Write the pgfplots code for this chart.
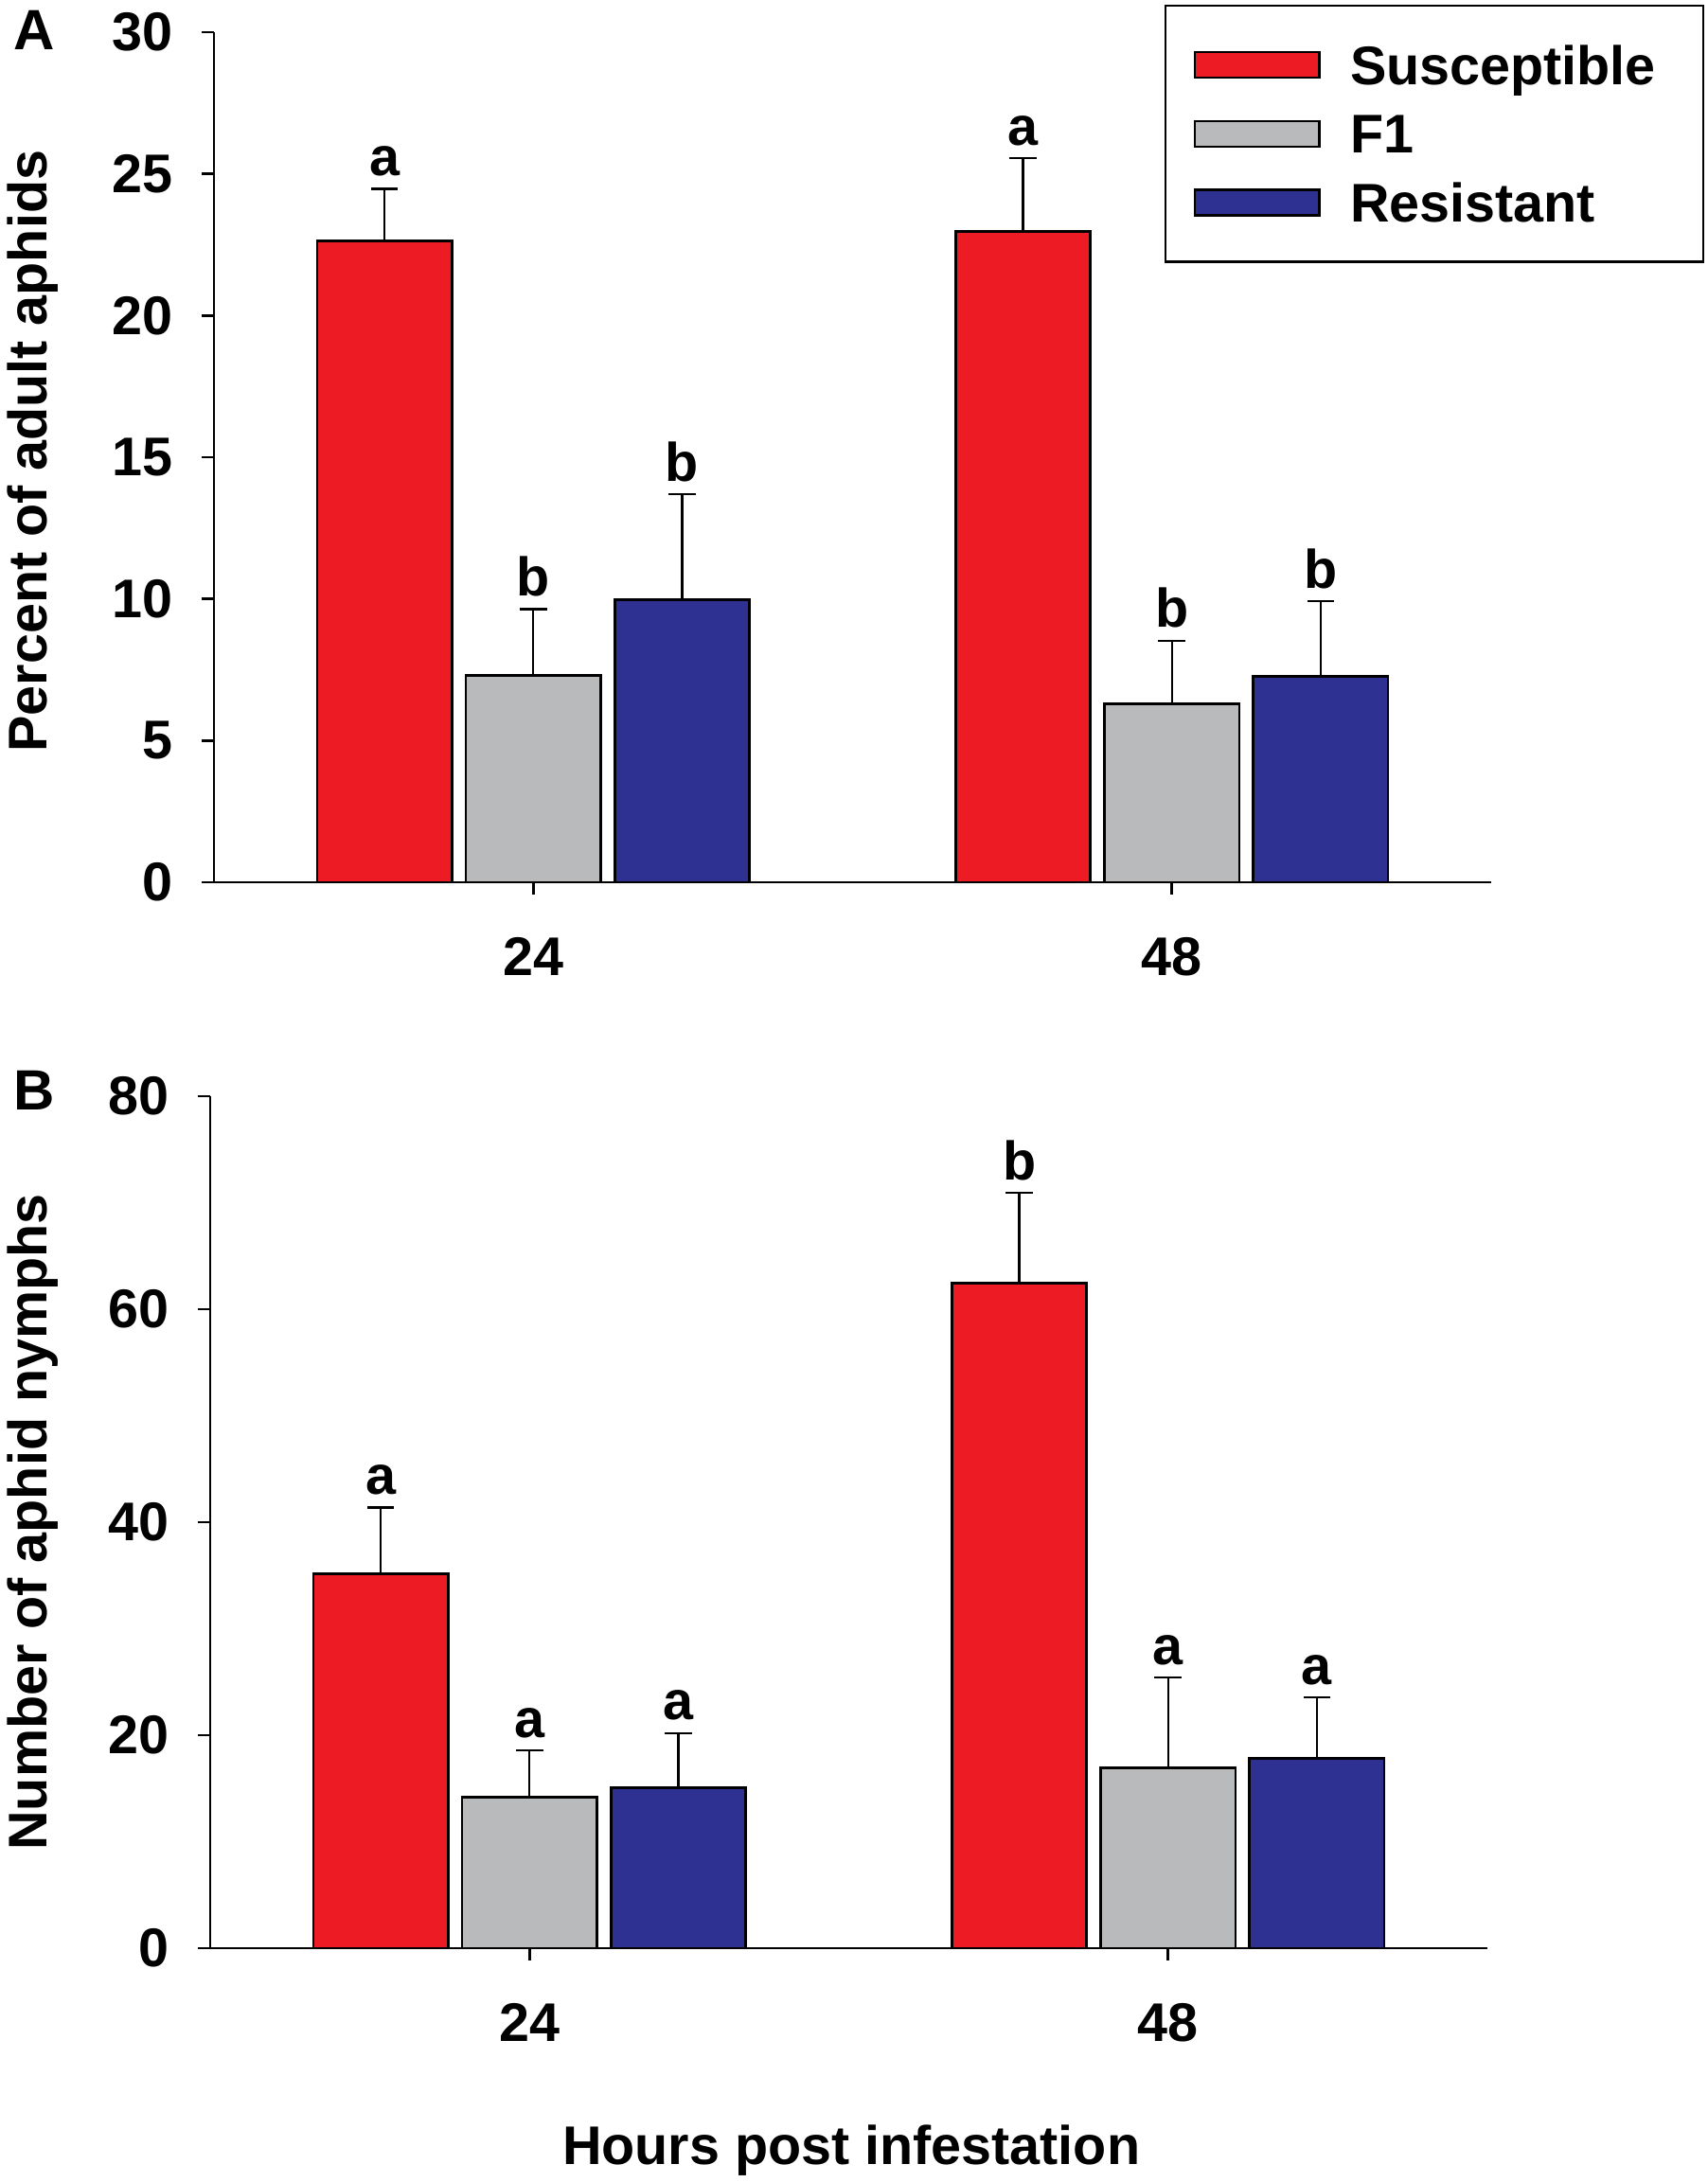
\documentclass[border=0pt]{standalone}
\usepackage{pgfplots}
\pgfplotsset{compat=1.18}
\usepackage{fontspec}
\setmainfont{Liberation Sans}
\definecolor{cS}{RGB}{237,28,36}
\definecolor{cF}{RGB}{185,186,188}
\definecolor{cR}{RGB}{46,49,146}
\newcommand\lf{\fontsize{11.5}{13.8}\selectfont\bfseries}
\pgfplotsset{
 panel/.style={
  scale only axis, width=269.8pt,
  axis lines*=left, axis line style={line width=0.55pt, black},
  xmin=-0.5, xmax=1.5, ymin=0, enlargelimits=false,
  xtick={0,1}, xticklabels={24,48},
  tick align=outside, major tick length=2.6pt,
  tick style={line width=0.55pt, black},
  /pgf/number format/assume math mode=true,
  tick label style={font=\lf},
  label style={font=\lf},
  yticklabel style={inner sep=0pt, xshift=-5.9pt},
  xticklabel style={inner sep=0pt, yshift=-8.9pt},
  clip=false,
 },
 sbar/.style={ybar, bar width=0.211, bar shift=0, draw=black, line width=0.55pt,
  error bars/y dir=plus, error bars/y explicit,
  error bars/error bar style={line width=0.45pt, black},
  error bars/error mark options={rotate=90, mark size=2.87pt, line width=0.45pt, black}},
 letters/.style={forget plot, only marks, mark=*, mark size=0pt,
  mark options={draw=none, fill=none}, nodes near coords,
  point meta=explicit symbolic,
  nodes near coords style={font=\lf, anchor=south, inner sep=0pt, yshift=2.5pt, text=black}},
}
\begin{document}
\begin{tikzpicture}
\path[use as bounding box] (0,0) rectangle (360.8pt,461pt);
\begin{axis}[panel, at={(45.2pt,274.6pt)}, anchor=south west, height=179.6pt,
  ymax=30, ytick={0,5,...,30},
  ylabel={Percent of adult aphids},
  ylabel style={at={(axis description cs:-0.1305,0.507)}, anchor=base},
  legend style={at={(1.1668,1.0323)}, anchor=north east, draw=black, line width=0.45pt,
    font=\lf, inner xsep=6pt, inner ysep=8.4pt, row sep=6.34pt, column sep=6.3pt,
    nodes={inner sep=0pt, text height=8.2pt, text depth=0pt}},
  legend cell align=left,
  legend image code/.code={\draw[#1, line width=0.5pt] (0pt,-2.7pt) rectangle (26.3pt,2.7pt);},
]
\addplot[sbar, fill=cS] coordinates {(-0.233,22.64) +- (0,1.83) (0.767,22.97) +- (0,2.58)};
\addplot[sbar, fill=cF] coordinates {(0,7.29) +- (0,2.35) (1,6.29) +- (0,2.23)};
\addplot[sbar, fill=cR] coordinates {(0.233,9.98) +- (0,3.71) (1.233,7.27) +- (0,2.64)};
\addplot[letters] coordinates {(-0.233,24.47) [a] (0,9.64) [b] (0.233,13.69) [b] (0.767,25.55) [a] (1,8.52) [b] (1.233,9.91) [b]};
\legend{Susceptible\hspace*{4pt},F1,Resistant}
\end{axis}
\begin{axis}[panel, at={(44.4pt,49.4pt)}, anchor=south west, height=180pt,
  ymax=80, ytick={0,20,...,80},
  ylabel={Number of aphid nymphs},
  ylabel style={at={(axis description cs:-0.1275,0.5)}, anchor=base},
  xlabel={Hours post infestation},
  xlabel style={at={(axis description cs:0.502,-0.2544)}, anchor=base},
]
\addplot[sbar, fill=cS] coordinates {(-0.233,35.15) +- (0,6.22) (0.767,62.46) +- (0,8.46)};
\addplot[sbar, fill=cF] coordinates {(0,14.2) +- (0,4.37) (1,16.93) +- (0,8.46)};
\addplot[sbar, fill=cR] coordinates {(0.233,15.09) +- (0,5.11) (1.233,17.82) +- (0,5.73)};
\addplot[letters] coordinates {(-0.233,41.37) [a] (0,18.57) [a] (0.233,20.2) [a] (0.767,70.92) [b] (1,25.39) [a] (1.233,23.55) [a]};
\end{axis}
\node[font=\fontsize{12}{14}\selectfont\bfseries, anchor=base west, inner sep=0pt] at (2.6pt,450.4pt) {A};
\node[font=\fontsize{12}{14}\selectfont\bfseries, anchor=base west, inner sep=0pt] at (2.6pt,226.4pt) {B};
\end{tikzpicture}
\end{document}
